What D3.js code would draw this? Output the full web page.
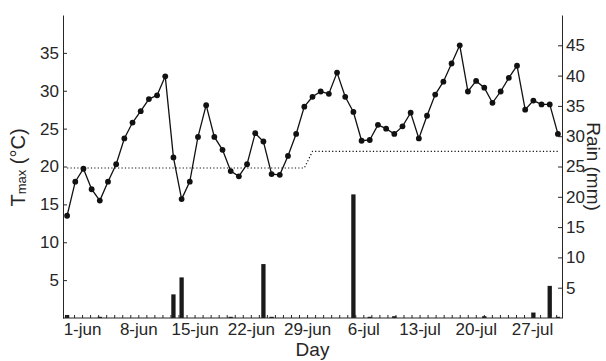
<!DOCTYPE html>
<html>
<head>
<meta charset="utf-8">
<script src="https://cdn.jsdelivr.net/npm/d3@7"></script>
<style>
  body { margin: 0; background: #fff; }
  text { font-family: "Liberation Sans", Arial, Helvetica, sans-serif; fill: #262626; }
</style>
</head>
<body>
<svg id="chart" width="606" height="361"></svg>
<script>
// ** Data **
// daily max temperature (left axis, degC), first value is 30-may
const tmax = [13.5, 18.0, 19.7, 17.0, 15.5, 18.0, 20.3, 23.7, 25.8, 27.3,
              28.9, 29.4, 31.9, 21.2, 15.7, 18.0, 23.9, 28.1, 23.9, 22.2,
              19.4, 18.7, 20.3, 24.4, 23.3, 19.0, 18.9, 21.4, 24.3, 27.9,
              29.2, 29.9, 29.6, 32.4, 29.2, 27.2, 23.4, 23.5, 25.5, 25.0,
              24.3, 25.3, 27.1, 23.7, 26.7, 29.5, 31.2, 33.6, 36.0, 29.9,
              31.3, 30.4, 28.4, 29.9, 31.7, 33.3, 27.5, 28.7, 28.2, 28.2,
              24.3];

// daily rain (right axis, mm)
const rain = [0.5, 0, 0, 0, 0.2, 0, 0, 0, 0, 0,
              0, 0, 0, 3.9, 6.7, 0, 0, 0, 0, 0,
              0.2, 0, 0, 0, 8.9, 0.2, 0, 0, 0, 0,
              0, 0, 0, 0, 0, 20.4, 0, 0.2, 0, 0,
              0.3, 0, 0, 0, 0, 0, 0, 0, 0, 0,
              0, 0.3, 0, 0, 0, 0, 0, 0.9, 0, 5.3,
              0.2];

// threshold (dotted line), breakpoints as [day index, degC]
const thrIdx = [0, 29, 30, 60];
const thrVal = [19.8, 19.8, 22.0, 22.0];

// tick labels of the day axis
const dayTickLabels = ["1-jun", "8-jun", "15-jun", "22-jun", "29-jun",
                       "6-jul", "13-jul", "20-jul", "27-jul"];
const dayTickDates = [new Date(2010, 5, 1), new Date(2010, 5, 8), new Date(2010, 5, 15),
                      new Date(2010, 5, 22), new Date(2010, 5, 29), new Date(2010, 6, 6),
                      new Date(2010, 6, 13), new Date(2010, 6, 20), new Date(2010, 6, 27)];

const tempTicks = [5, 10, 15, 20, 25, 30, 35];
const rainTicks = [5, 10, 15, 20, 25, 30, 35, 40, 45];

// ** Layout **
const margin = { top: 15, right: 44, bottom: 43, left: 63 };
const width = 606 - margin.left - margin.right;
const height = 361 - margin.top - margin.bottom;
const tickFont = 17;
const labelFont = 20;

let svg = d3.select("#chart");
let g = svg.append("g")
  .attr("transform", "translate(" + margin.left + "," + margin.top + ")");

// ** Scales **
let xData = d3.scaleLinear().domain([-0.5, tmax.length - 0.5]).range([0, width]);
// the day axis ticks do not sit exactly on the points in the original figure
let xDay = d3.scaleTime()
  .domain([new Date(2010, 4, 30), new Date(2010, 6, 31)])
  .range([3, 501.2]);
let yTemp = d3.scaleLinear().domain([0, 40]).range([height, 0]);
let yRain = d3.scaleLinear().domain([0, 50]).range([height, 0]);

// ** Rain bars **
g.selectAll("rect.rain")
  .data(rain)
  .enter().append("rect")
  .attr("class", "rain")
  .attr("x", (d, i) => xData(i) - 2.15)
  .attr("width", 4.3)
  .attr("y", d => yRain(d))
  .attr("height", d => height - yRain(d))
  .style("fill", "#1a1a1a");

// ** Threshold dotted line **
let thrLine = d3.line()
  .x(d => xData(d))
  .y((d, i) => yTemp(thrVal[i]));
g.append("path")
  .attr("d", thrLine(thrIdx))
  .style("fill", "none")
  .style("stroke", "#111")
  .style("stroke-width", 1.2)
  .style("stroke-dasharray", "1.2,2.2");

// ** Temperature line + markers **
let tLine = d3.line()
  .x((d, i) => xData(i))
  .y(d => yTemp(d));
g.append("path")
  .attr("d", tLine(tmax))
  .style("fill", "none")
  .style("stroke", "#111")
  .style("stroke-width", 1.3);

g.selectAll("circle.tmax")
  .data(tmax)
  .enter().append("circle")
  .attr("class", "tmax")
  .attr("cx", (d, i) => xData(i))
  .attr("cy", d => yTemp(d))
  .attr("r", 2.9)
  .style("fill", "#111");

// ** Axes **
function styleAxis(sel) {
  sel.selectAll("path, line").style("stroke", "#262626").style("stroke-width", 1);
  sel.selectAll("text").style("font-size", tickFont + "px").style("fill", "#262626");
}

let leftAxis = g.append("g")
  .call(d3.axisLeft(yTemp).tickValues(tempTicks).tickSizeInner(-4).tickSizeOuter(0).tickPadding(4));
styleAxis(leftAxis);

let rightAxis = g.append("g")
  .attr("transform", "translate(" + width + ",0)")
  .call(d3.axisRight(yRain).tickValues(rainTicks).tickSizeInner(-4).tickSizeOuter(0).tickPadding(4));
styleAxis(rightAxis);

// daily minor ticks on the bottom, labels every week
let dayTicks = xDay.ticks(d3.timeDay).filter(d => xDay(d) >= 0 && xDay(d) <= width);
let labelFmt = d => {
  let k = dayTickDates.findIndex(t => t.getTime() == d.getTime());
  return k < 0 ? "" : dayTickLabels[k];
};
let bottomAxis = g.append("g")
  .attr("transform", "translate(0," + height + ")")
  .call(d3.axisBottom(xDay).tickValues(dayTicks).tickFormat(labelFmt)
        .tickSizeInner(-3).tickSizeOuter(0).tickPadding(5));
bottomAxis.select(".domain").remove();
styleAxis(bottomAxis);
g.append("line")
  .attr("x1", 0).attr("x2", width)
  .attr("y1", height).attr("y2", height)
  .style("stroke", "#262626");

// ** Axis titles **
let yLab = svg.append("text")
  .attr("transform", "translate(25," + (margin.top + height / 2 + 1) + ") rotate(-90)")
  .attr("text-anchor", "middle")
  .style("font-size", labelFont + "px");
yLab.append("tspan").text("T");
yLab.append("tspan").attr("dy", 1).style("font-size", "13px").text("max");
yLab.append("tspan").attr("dy", -1).text(" (°C)");

svg.append("text")
  .attr("transform", "translate(587," + (margin.top + height / 2) + ") rotate(90)")
  .attr("text-anchor", "middle")
  .style("font-size", "19px")
  .text("Rain (mm)");

svg.append("text")
  .attr("x", margin.left + width / 2)
  .attr("y", 356)
  .attr("text-anchor", "middle")
  .style("font-size", "19px")
  .text("Day");
</script>
</body>
</html>
